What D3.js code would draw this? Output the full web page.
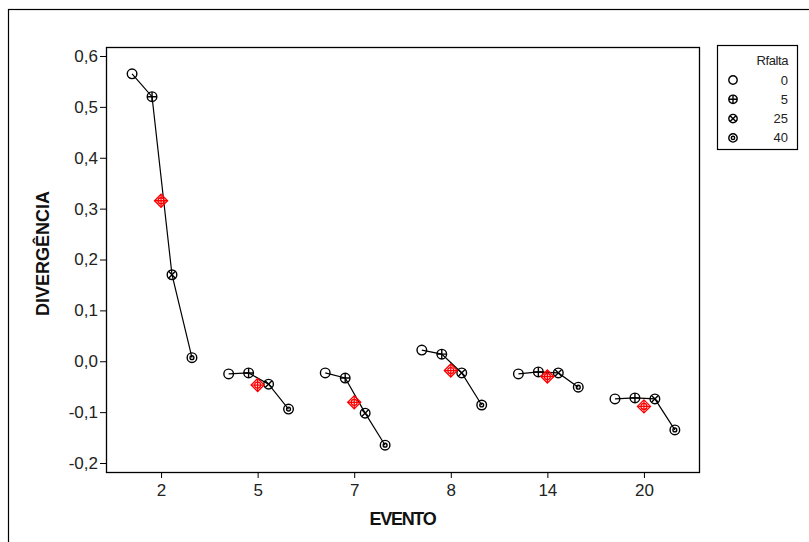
<!DOCTYPE html>
<html>
<head>
<meta charset="utf-8">
<script src="https://cdn.jsdelivr.net/npm/d3@7"></script>
<style>
  body { margin: 0; background: #fff; }
  text { font-family: "Liberation Sans", Arial, sans-serif; }
</style>
</head>
<body>
<svg></svg>
<script>
const width = 809;
const height = 542;

// data
const eventos = ['2', '5', '7', '8', '14', '20'];
const rfalta = ['0', '5', '25', '40'];
const div0  = [0.565, -0.025, -0.023, 0.022, -0.025, -0.074];
const div5  = [0.520, -0.023, -0.033, 0.014, -0.021, -0.072];
const div25 = [0.170, -0.045, -0.102, -0.023, -0.023, -0.074];
const div40 = [0.007, -0.094, -0.165, -0.086, -0.051, -0.135];
const yTicks = [-0.2, -0.1, 0, 0.1, 0.2, 0.3, 0.4, 0.5, 0.6];

const series = [div0, div5, div25, div40];
const groups = eventos.map((e, i) => ({
	evento: e,
	points: rfalta.map((r, j) => ({ rfalta: r, value: series[j][i] })),
	mean: d3.mean(series, s => s[i])
}));

const svg = d3.select('svg')
	.attr('width', width)
	.attr('height', height);

// outer frame
svg.append('rect')
	.attr('x', 8.5).attr('y', 9.5)
	.attr('width', 820).attr('height', 560)
	.attr('fill', 'none')
	.attr('stroke', '#000')
	.attr('stroke-width', 1.2);

const plot = { left: 106, right: 699, top: 47, bottom: 472 };

const x = d3.scalePoint()
	.domain(eventos)
	.range([plot.left, plot.right])
	.padding(0.57);

const dodge = d3.scalePoint()
	.domain(rfalta)
	.range([-0.30 * x.step(), 0.32 * x.step()]);

const y = d3.scaleLinear()
	.domain([-0.2, 0.6])
	.range([463, 56]);

const fmt = d => d3.format('.1f')(d).replace('.', ',').replace('−', '-');

// axes
const yAxis = svg.append('g')
	.attr('transform', `translate(${plot.left},0)`)
	.call(d3.axisLeft(y).tickValues(yTicks).tickFormat(fmt).tickSize(6).tickPadding(2));
const xAxis = svg.append('g')
	.attr('transform', `translate(0,${plot.bottom})`)
	.call(d3.axisBottom(x).tickSize(6).tickPadding(6));
[yAxis, xAxis].forEach(a => {
	a.select('.domain').remove();
	a.selectAll('text')
		.attr('font-family', '"Liberation Sans", Arial, sans-serif')
		.attr('font-size', 17)
		.attr('fill', '#222');
	a.selectAll('line').attr('stroke', '#000');
});

svg.append('rect')
	.attr('x', plot.left + 0.5).attr('y', plot.top + 0.5)
	.attr('width', plot.right - plot.left).attr('height', plot.bottom - plot.top)
	.attr('fill', 'none')
	.attr('stroke', '#000')
	.attr('stroke-width', 1.3);

// axis titles
svg.append('text')
	.attr('x', (plot.left + plot.right) / 2)
	.attr('y', 525)
	.attr('text-anchor', 'middle')
	.attr('font-size', 18)
	.attr('font-weight', 'bold')
	.attr('letter-spacing', -1.3)
	.attr('fill', '#111')
	.text('EVENTO');

svg.append('text')
	.attr('transform', `translate(49,${(plot.top + plot.bottom) / 2 - 6}) rotate(-90)`)
	.attr('text-anchor', 'middle')
	.attr('font-size', 18)
	.attr('font-weight', 'bold')
	.attr('fill', '#111')
	.text('DIVERGÊNCIA');

// symbols
function symbol(sel, level, r) {
	sel.append('circle').attr('r', r);
	if (level === '5') {
		sel.append('path').attr('d', `M${-r},0H${r}M0,${-r}V${r}`);
	} else if (level === '25') {
		const k = r * 0.707;
		sel.append('path').attr('d', `M${-k},${-k}L${k},${k}M${-k},${k}L${k},${-k}`);
	} else if (level === '40') {
		sel.append('circle').attr('r', r * 0.4);
	}
	sel.attr('fill', 'none').attr('stroke', '#000').attr('stroke-width', 1.4);
}

const line = d3.line()
	.x(d => d.x)
	.y(d => y(d.value));

const g = svg.append('g').selectAll('g').data(groups).join('g');

g.append('path')
	.attr('d', d => line(d.points.map(p => ({ x: x(d.evento) + dodge(p.rfalta), value: p.value }))))
	.attr('fill', 'none')
	.attr('stroke', '#000')
	.attr('stroke-width', 1.2);

g.each(function(d) {
	const grp = d3.select(this);
	d.points.forEach(p => {
		grp.append('g')
			.attr('transform', `translate(${x(d.evento) + dodge(p.rfalta)},${y(p.value)})`)
			.call(symbol, p.rfalta, 4.8);
	});
	// mean marker
	const s = 6.5;
	const m = grp.append('g')
		.attr('transform', `translate(${x(d.evento)},${y(d.mean)})`)
		.attr('fill', 'none')
		.attr('stroke', '#f00')
		.attr('stroke-width', 1.3);
	m.append('path').attr('d', `M0,${-s}L${s},0L0,${s}L${-s},0Z`);
	m.append('circle').attr('r', 3);
	m.append('path').attr('d', `M${-s},0H${s}M0,${-s}V${s}`);
});

// legend
const legend = svg.append('g');
legend.append('rect')
	.attr('x', 717.5).attr('y', 45.5)
	.attr('width', 80).attr('height', 104)
	.attr('fill', 'none')
	.attr('stroke', '#000')
	.attr('stroke-width', 1.2);
legend.append('text')
	.attr('x', 788).attr('y', 65)
	.attr('text-anchor', 'end')
	.attr('font-size', 13)
	.attr('letter-spacing', -0.4)
	.attr('fill', '#222')
	.text('Rfalta');
const items = legend.selectAll('g.item').data(rfalta).join('g')
	.attr('class', 'item')
	.attr('transform', (d, i) => `translate(0, ${80 + i * 19.3})`);
items.append('g')
	.attr('transform', 'translate(733,0)')
	.each(function(d) { d3.select(this).call(symbol, d, 4.2); });
items.append('text')
	.attr('x', 788)
	.attr('dy', '0.35em')
	.attr('text-anchor', 'end')
	.attr('font-size', 13)
	.attr('fill', '#222')
	.text(d => d);
</script>
</body>
</html>
